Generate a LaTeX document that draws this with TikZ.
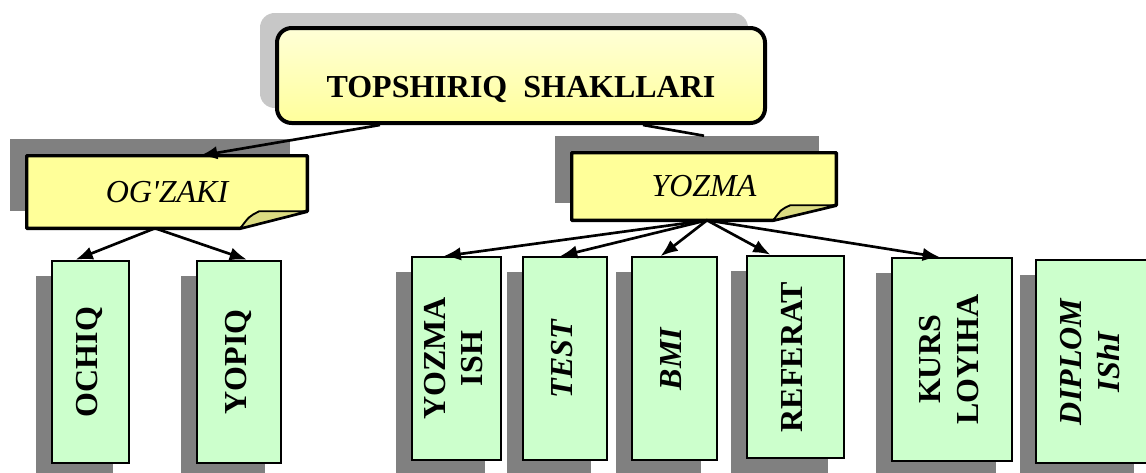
\documentclass[tikz,border=0pt]{standalone}
\usepackage{fontspec}
\setmainfont{Liberation Serif}
\usetikzlibrary{arrows.meta,shadows,calc}
\definecolor{notefill}{RGB}{255,255,153}
\definecolor{foldfill}{RGB}{220,220,130}
\definecolor{boxgreen}{RGB}{204,255,204}
\definecolor{shadowgray}{RGB}{128,128,128}
\definecolor{headtop}{RGB}{255,255,215}
\definecolor{headbottom}{RGB}{255,255,155}
\tikzset{>={Latex[length=13pt,width=10pt]}}
\newcommand{\vlabel}[1]{\rotatebox{90}{\begin{tabular}{@{}c@{}}#1\end{tabular}}}

\begin{document}
\begin{tikzpicture}[x=0.75pt, y=-0.75pt,
        headbox/.style={draw, rounded corners=11pt, line width=3pt,
                top color=headtop, bottom color=headbottom,
                minimum width=366pt, inner sep=0pt,
                text height=51.75pt, text depth=19.5pt,
                font=\fontsize{24}{28}\selectfont\bfseries,
                drop shadow={shadow xshift=-12.75pt, shadow yshift=11.25pt,
                        fill=black!22, opacity=1}},
        notebox/.style={inner sep=0pt,
                drop shadow={shadow xshift=-12.75pt, shadow yshift=12.75pt,
                        fill=shadowgray, opacity=1, rounded corners=2pt}},
        notetext/.style={font=\fontsize{24}{28}\selectfont\itshape},
        noteline/.style={draw, line width=2.6pt, fill=notefill, line join=round},
        foldline/.style={draw, line width=1.4pt, fill=foldfill, line join=round},
        formbox/.style={draw, line width=1.4pt, fill=boxgreen, inner sep=0pt,
                minimum height=152pt, font=\fontsize{24}{28}\selectfont\bfseries,
                drop shadow={shadow xshift=-12pt, shadow yshift=-11.25pt,
                        fill=shadowgray, opacity=1}},
        link/.style={->, line width=2pt}]
        \useasboundingbox (0,0) rectangle (1146,472);

        % top
        \node[headbox] (top) at (521,75.5) {TOPSHIRIQ\enspace SHAKLLARI};

        % two kinds
        \node[notebox, minimum width=210pt, minimum height=54pt] (og) at (167,192) {};
        \draw[noteline] (og.north west) -- (og.north east) -- ($(og.south east)+(0,-17)$)
                -- ($(og.south east)+(-67,0)$) -- (og.south west) -- cycle;
        \draw[foldline] ($(og.south east)+(-67,0)$) .. controls ($(og.south east)+(-58,-12)$)
                .. ($(og.south east)+(-48,-17)$) -- ($(og.south east)+(0,-17)$) -- cycle;
        \node[notetext] (oglabel) at (og.center) {OG\textquotesingle ZAKI};

        \node[notebox, minimum width=198pt, minimum height=50.25pt] (yz) at (704,186.5) {};
        \draw[noteline] (yz.north west) -- (yz.north east) -- ($(yz.south east)+(0,-15)$)
                -- ($(yz.south east)+(-63,0)$) -- (yz.south west) -- cycle;
        \draw[foldline] ($(yz.south east)+(-63,0)$) .. controls ($(yz.south east)+(-55,-11)$)
                .. ($(yz.south east)+(-46,-15)$) -- ($(yz.south east)+(0,-15)$) -- cycle;
        \node[notetext] (yzlabel) at (yz.center) {YOZMA};

        % forms
        \node[formbox, minimum width=57.75pt] (ochiq) at (90.5,362) {\vlabel{OCHIQ}};
        \node[formbox, minimum width=63pt] (yopiq) at (239,362) {\vlabel{YOPIQ}};
        \node[formbox, minimum width=66.75pt] (yish) at (456.5,358.5) {\vlabel{YOZMA\\ISH}};
        \node[formbox, minimum width=63pt] (test) at (565,358.5) {\vlabel{\textit{TEST}}};
        \node[formbox, minimum width=63.75pt] (bmi) at (674.5,358.5) {\vlabel{\textit{BMI}}};
        \node[formbox, minimum width=72.75pt] (ref) at (795.5,357) {\vlabel{REFERAT}};
        \node[formbox, minimum width=90pt] (kurs) at (952,359.5) {\vlabel{KURS\\LOYIHA}};
        \node[formbox, minimum width=85.5pt] (dipl) at (1093,361.5) {\vlabel{\textit{DIPLOM}\\\textit{IShI}}};

        % connectors
        \coordinate (yzin) at ($(yz.north)+(0,-17)$);
        \coordinate (ogout) at ($(og.south)+(-12,0)$);
        \coordinate (yzout) at ($(yz.south)+(3,0)$);
        \draw[link] ($(top.south)+(-141,0)$) -- ($(og.north)+(33,0)$);
        \draw[line width=2pt] ($(top.south)+(122,0)$) -- (yzin);
        \draw[link] (ogout) -- ($(ochiq.north)+(-15,0)$);
        \draw[link] (ogout) -- ($(yopiq.north)+(8,0)$);
        \foreach \n/\dx in {yish/-13, test/-5, bmi/-14, ref/-25, kurs/-12}
                \draw[link] (yzout) -- ($(\n.north)+(\dx,0)$);
\end{tikzpicture}
\end{document}
